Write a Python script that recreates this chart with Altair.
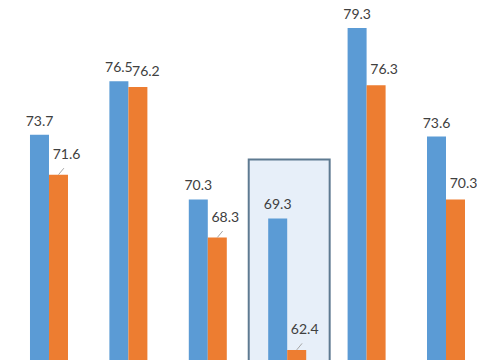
import altair as alt
import pandas as pd

groups = ["1", "2", "3", "4", "5", "6"]
series = ["A", "B"]
blue_values = [73.7, 76.5, 70.3, 69.3, 79.3, 73.6]
orange_values = [71.6, 76.2, 68.3, 62.4, 76.3, 70.3]
orange_leader = [True, False, True, True, False, False]
highlight_group = ["4"]
highlight_top = [72.4]

rows = []
for i, g in enumerate(groups):
    rows.append({"group": g, "series": "A", "value": blue_values[i], "leader": False})
    rows.append({"group": g, "series": "B", "value": orange_values[i], "leader": orange_leader[i]})
df = pd.DataFrame(rows)
hl = pd.DataFrame({"group": highlight_group, "top": highlight_top})

W, H = 469, 352
ydom = [61.87, 80.35]

xs = alt.Scale(domain=groups, paddingInner=0.5214, paddingOuter=0.214, align=0.647)
xo = alt.Scale(domain=series, paddingInner=0, paddingOuter=0)
ysc = alt.Scale(domain=ydom, zero=False, nice=False)
colors = alt.Scale(domain=series, range=["#5B9BD5", "#ED7D31"])
FONT = "Lato"
TXT = "#404040"

X = alt.X("group:N", scale=xs, axis=None)
XO = alt.XOffset("series:N", scale=xo)
Y = alt.Y("value:Q", scale=ysc, axis=None)

box = alt.Chart(hl).mark_bar(
    width=alt.RelativeBandSize(2.13), fill="#E7EFF9", stroke="#5E7A91", strokeWidth=2, xOffset=2
).encode(
    x=X,
    y=alt.Y("top:Q", scale=ysc, axis=None),
    y2=alt.value(H + 6),
)

bars = alt.Chart(df).mark_bar().encode(
    x=X,
    xOffset=XO,
    y=Y,
    y2=alt.value(H + 6),
    color=alt.Color("series:N", scale=colors, legend=None),
)

blue_txt = alt.Chart(df).transform_filter(alt.datum.series == "A").mark_text(
    font=FONT, fontSize=14, color=TXT, baseline="alphabetic", dy=-9
).encode(x=X, xOffset=XO, y=Y, text=alt.Text("value:Q", format=".1f"))

orange_txt_near = alt.Chart(df).transform_filter(
    (alt.datum.series == "B") & (alt.datum.leader == False)
).mark_text(
    font=FONT, fontSize=14, color=TXT, baseline="alphabetic", dy=-11, dx=8
).encode(x=X, xOffset=XO, y=Y, text=alt.Text("value:Q", format=".1f"))

orange_txt_far = alt.Chart(df).transform_filter(
    (alt.datum.series == "B") & (alt.datum.leader == True)
).mark_text(
    font=FONT, fontSize=14, color=TXT, baseline="alphabetic", dy=-16, dx=8
).encode(x=X, xOffset=XO, y=Y, text=alt.Text("value:Q", format=".1f"))

leaders = alt.Chart(df).transform_filter(
    (alt.datum.series == "B") & (alt.datum.leader == True)
).mark_point(
    shape="M0,0L0.83,-1", size=169, filled=False, stroke="#A6A6A6", strokeWidth=1, opacity=1
).encode(x=X, xOffset=XO, y=Y)

chart = alt.layer(box, bars, leaders, blue_txt, orange_txt_near, orange_txt_far).properties(
    width=W, height=H, padding=0, autosize=alt.AutoSizeParams(type="none")
).configure_view(stroke=None)

chart.save("out.html", embed_options={"renderer": "svg", "actions": False})
